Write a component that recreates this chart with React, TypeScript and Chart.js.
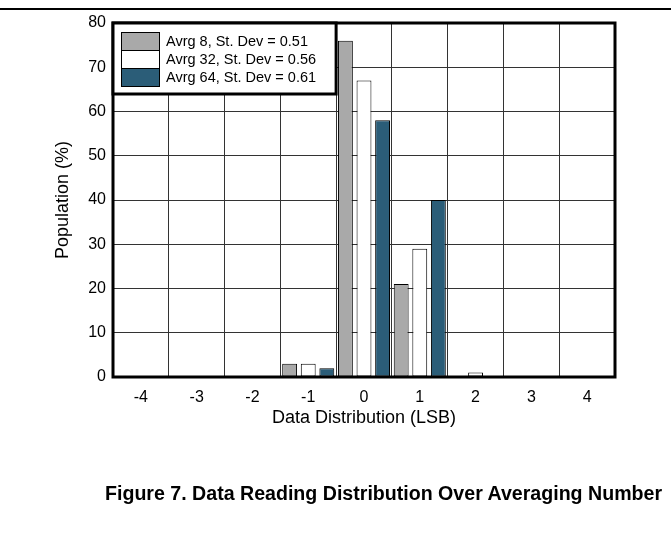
import React, { useEffect, useRef } from 'react';
import { Chart, registerables } from 'chart.js';

Chart.register(...registerables);

const categories = ['-4', '-3', '-2', '-1', '0', '1', '2', '3', '4'];
const avrg8 = [0, 0, 0, 3, 76, 21, 0, 0, 0];
const avrg32 = [0, 0, 0, 3, 67, 29, 1, 0, 0];
const avrg64 = [0, 0, 0, 2, 58, 40, 0, 0, 0];
const seriesLabels = ['Avrg 8, St. Dev = 0.51', 'Avrg 32, St. Dev = 0.56', 'Avrg 64, St. Dev = 0.61'];
const seriesColors = ['#a9a9a9', '#ffffff', '#2b5d78'];
const yMin = 0;
const yMax = 80;
const yStep = 10;
const xTitle = 'Data Distribution (LSB)';
const yTitle = 'Population (%)';
const caption = 'Figure 7. Data Reading Distribution Over Averaging Number';

const FONT = "'Liberation Sans', Arial, Helvetica, sans-serif";

const framePlugin = {
  id: 'frameAndLegend',
  afterDraw(chart: any) {
    const { ctx, chartArea: a, scales } = chart;
    const x = scales.x;
    ctx.save();
    // plot frame
    ctx.strokeStyle = '#000';
    ctx.lineWidth = 3;
    ctx.strokeRect(a.left, a.top, a.right - a.left, a.bottom - a.top);
    // legend box
    const lRight = (x.getPixelForValue(3) + x.getPixelForValue(4)) / 2;
    const lLeft = a.left;
    const lTop = a.top;
    const lBottom = lTop + 71;
    ctx.fillStyle = '#fff';
    ctx.fillRect(lLeft, lTop, lRight - lLeft, lBottom - lTop);
    ctx.lineWidth = 3;
    ctx.strokeRect(lLeft, lTop, lRight - lLeft, lBottom - lTop);
    ctx.lineWidth = 1;
    ctx.font = `14.5px ${FONT}`;
    ctx.textBaseline = 'middle';
    ctx.textAlign = 'left';
    for (let i = 0; i < seriesLabels.length; i++) {
      const sy = lTop + 9 + i * 18;
      ctx.fillStyle = seriesColors[i];
      ctx.fillRect(lLeft + 8, sy, 38, 18);
      ctx.strokeStyle = '#000';
      ctx.strokeRect(lLeft + 8.5, sy + 0.5, 38, 18);
      ctx.fillStyle = '#000';
      ctx.fillText(seriesLabels[i], lLeft + 53, sy + 9.5);
    }
    ctx.restore();
  },
};

export default function App() {
  const canvasRef = useRef<HTMLCanvasElement | null>(null);

  useEffect(() => {
    if (!canvasRef.current) return;
    Chart.defaults.font.family = FONT;
    Chart.defaults.color = '#000';
    const chart = new Chart(canvasRef.current, {
      type: 'bar',
      data: {
        labels: categories,
        datasets: [avrg8, avrg32, avrg64].map((d, i) => ({
          label: seriesLabels[i],
          data: d,
          backgroundColor: seriesColors[i],
          borderColor: '#000',
          borderWidth: 1,
          borderSkipped: false,
          categoryPercentage: 1.0,
          barPercentage: 0.8,
        })),
      },
      options: {
        animation: false,
        responsive: false,
        maintainAspectRatio: false,
        events: [],
        layout: { padding: { left: 48, top: 23, right: 56, bottom: 104 } },
        plugins: {
          legend: { display: false },
          tooltip: { enabled: false },
          title: { display: false },
        },
        scales: {
          x: {
            grid: { color: '#333', lineWidth: 1, drawTicks: false, offset: true },
            border: { display: false },
            ticks: { font: { size: 16 }, padding: 11, color: '#000', maxRotation: 0 },
            title: { display: true, text: xTitle, font: { size: 18 }, color: '#000', padding: { top: 3, bottom: 4 } },
            afterFit(scale: any) {
              scale.height = 56;
            },
          },
          y: {
            min: yMin,
            max: yMax,
            grid: { color: '#333', lineWidth: 1, drawTicks: false },
            border: { display: false },
            ticks: { stepSize: yStep, font: { size: 16 }, padding: 7, color: '#000' },
            title: { display: true, text: yTitle, font: { size: 18 }, color: '#000', padding: { top: 4, bottom: 4 } },
            afterFit(scale: any) {
              scale.width = 65;
            },
          },
        },
      },
      plugins: [framePlugin],
    });
    return () => chart.destroy();
  }, []);

  return (
    <div style={{ position: 'fixed', left: 0, top: 0, width: 671, height: 537, background: '#fff', overflow: 'hidden' }}>
      <div style={{ position: 'absolute', left: 0, top: 8, width: 671, height: 2, background: '#000' }} />
      <canvas ref={canvasRef} width={671} height={537} style={{ position: 'absolute', left: 0, top: 0, width: 671, height: 537 }} />
      <div
        style={{
          position: 'absolute',
          left: 105,
          top: 482,
          fontFamily: FONT,
          fontWeight: 'bold',
          fontSize: 19.6,
          lineHeight: '22px',
          whiteSpace: 'nowrap',
          color: '#000',
        }}
      >
        {caption}
      </div>
    </div>
  );
}
